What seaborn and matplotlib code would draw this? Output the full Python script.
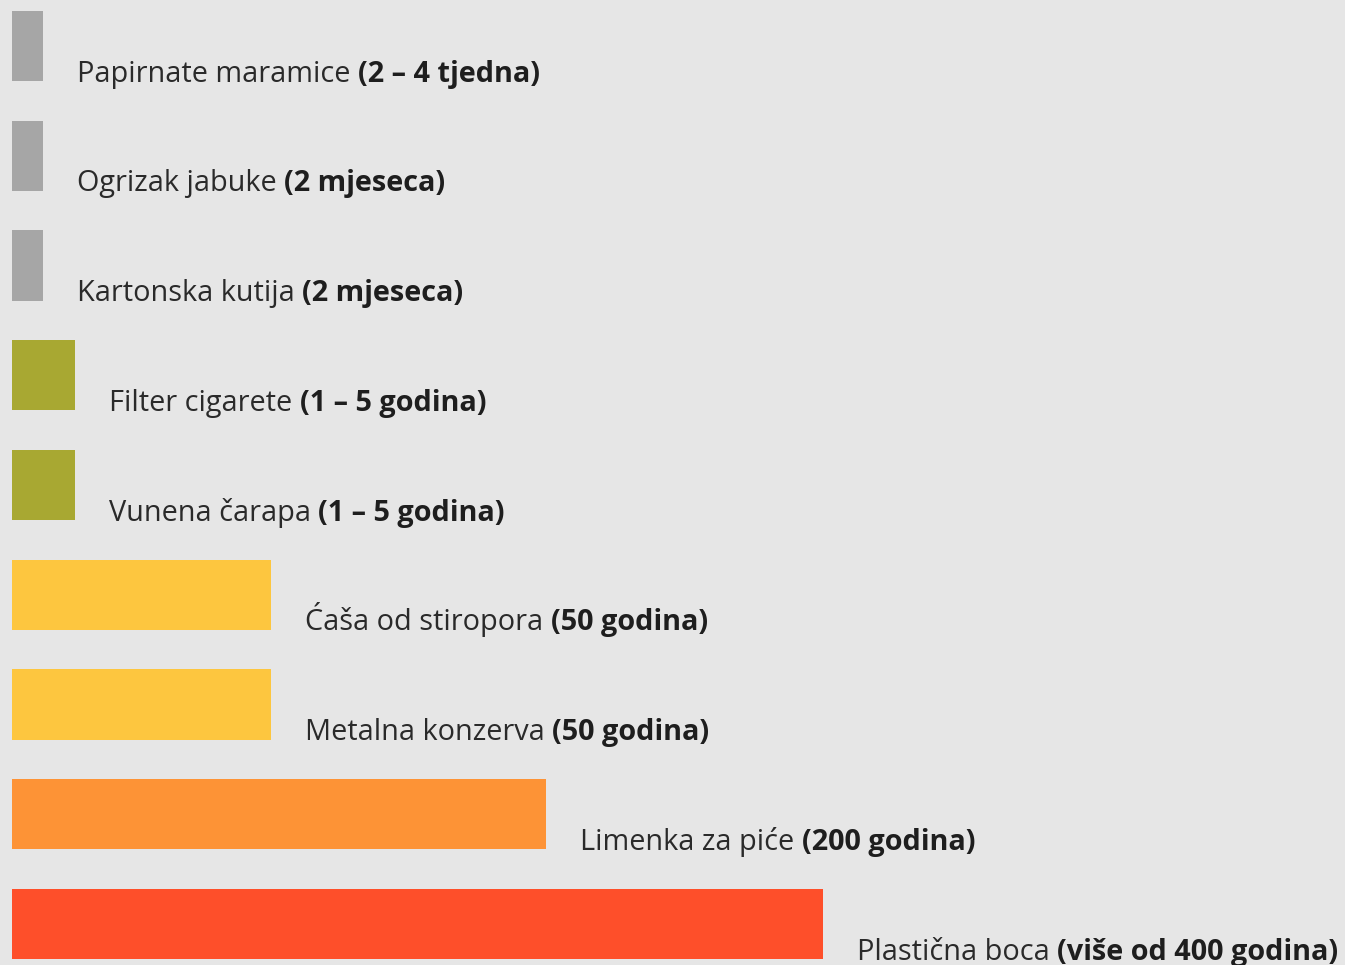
import seaborn as sns
import matplotlib.pyplot as plt
import pandas as pd

# items, how long they take to decompose, and relative bar length
items = ["Papirnate maramice", "Ogrizak jabuke", "Kartonska kutija",
         "Filter cigarete", "Vunena čarapa", "Ćaša od stiropora",
         "Metalna konzerva", "Limenka za piće", "Plastična boca"]
durations = ["(2 – 4 tjedna)", "(2 mjeseca)", "(2 mjeseca)",
             "(1 – 5 godina)", "(1 – 5 godina)", "(50 godina)",
             "(50 godina)", "(200 godina)", "(više od 400 godina)"]
bar_length = [31, 31, 31, 63, 63, 259, 259, 534, 811]
colors = ["#a6a6a6", "#a6a6a6", "#a6a6a6",
          "#a8a832", "#a8a832", "#fdc63f",
          "#fdc63f", "#fd9336", "#fe4f2a"]

df = pd.DataFrame({"item": items, "length": bar_length})

sns.set_style("white")
plt.rcParams["font.family"] = ["Open Sans", "DejaVu Sans"]

fig = plt.figure(figsize=(13.45, 9.65), dpi=100, facecolor="#e6e6e6")
ax = fig.add_axes([0, 0, 1, 1])
ax.set_facecolor("#e6e6e6")

sns.barplot(data=df, x="length", y="item", hue="item", palette=colors,
            orient="h", width=0.64, saturation=1, linewidth=0,
            legend=False, ax=ax)

ax.set_xlim(-12, 1333)
ax.set_ylim(8.373, -0.419)
ax.axis("off")

fig.canvas.draw()
for i, (name, dur, L) in enumerate(zip(items, durations, bar_length)):
    t = ax.text(L + 34, i + 0.325, name + " ", fontsize=20.8, color="#2a2a2a",
                va="baseline", ha="left")
    ax.annotate(dur, xy=(1, 0), xycoords=t, va="bottom", ha="left",
                fontsize=20.8, fontweight="bold", color="#1e1e1e")

plt.savefig("out.png", dpi=100, facecolor=fig.get_facecolor())
